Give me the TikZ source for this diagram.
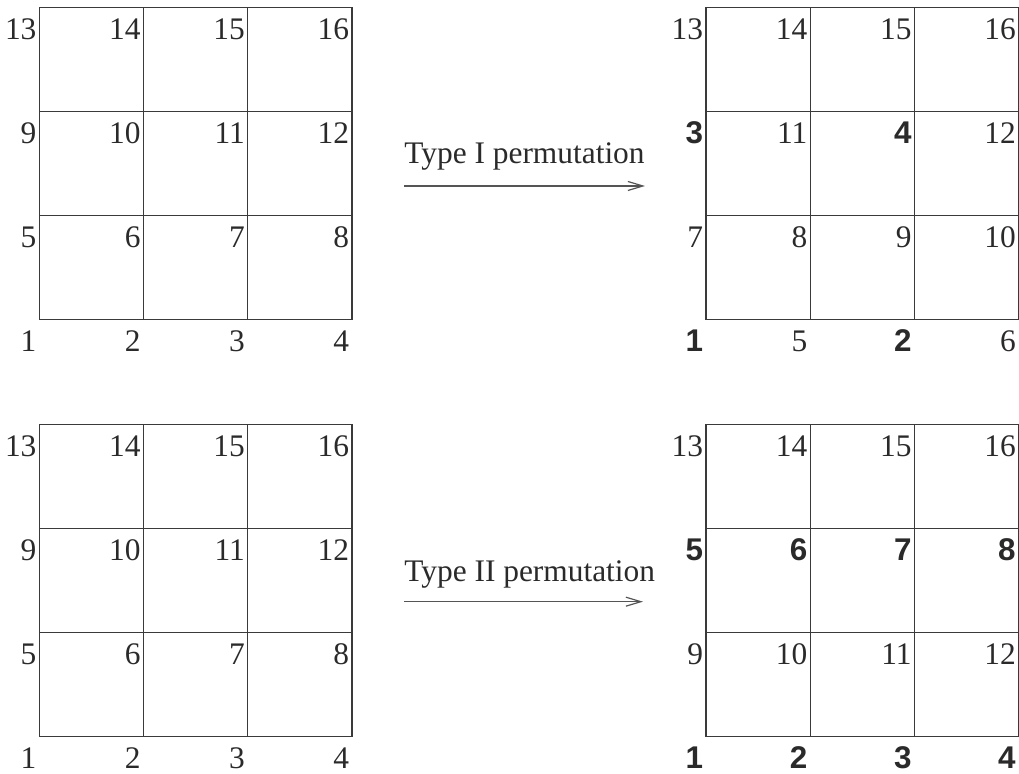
\documentclass[tikz,border=0pt]{standalone}
\usepackage{fontspec}
\setmainfont{Liberation Serif}
\newfontfamily\hitsans{Liberation Sans}
\usetikzlibrary{arrows.meta}
\definecolor{numc}{HTML}{2A2A2A}
\definecolor{gridc}{HTML}{3A3A3A}
\definecolor{arrowc}{HTML}{555555}
\newcommand{\numfont}{\fontsize{15.7}{18}\selectfont}
\newcommand{\hl}[1]{{\hitsans\bfseries #1}}
\newcommand{\cs}{104.2}
% #1 name, #2 left, #3 top, #4 labels, bottom row first
\newcommand{\permgrid}[4]{%
  \foreach \k in {0,...,3}{
    \draw[cell] (#2+\k*\cs,#3) -- (#2+\k*\cs,#3+3*\cs);
    \draw[cell] (#2,#3+\k*\cs) -- (#2+3*\cs,#3+\k*\cs);
  }
  \foreach \lab [count=\i from 0, evaluate=\i as \c using {int(mod(\i,4))},
      evaluate=\i as \r using {int(div(\i,4))}] in {#4}
    \node[num] (#1-\i) at ({#2+\c*\cs-2.5},{#3+(3-\r)*\cs+32}) {\lab};
}

\begin{document}
\begin{tikzpicture}[
  x=0.5pt, y=-0.5pt,
  cell/.style={draw=gridc, line width=0.6pt},
  num/.style={anchor=base east, inner sep=0pt, text=numc, font=\numfont},
  permlbl/.style={anchor=base west, inner sep=0pt, text=numc, font=\numfont},
  move/.style={draw=arrowc, line width=0.6pt, -{Straight Barb[length=7.5pt,width=4.5pt]}},
]
\useasboundingbox (0,0) rectangle (1019,774);

% original grids
\permgrid{tl}{39.3}{7.3}{1,2,3,4,5,6,7,8,9,10,11,12,13,14,15,16}
\permgrid{bl}{39.3}{424.3}{1,2,3,4,5,6,7,8,9,10,11,12,13,14,15,16}

% permuted grids
\permgrid{tr}{706}{7.3}{\hl{1},5,\hl{2},6,7,8,9,10,\hl{3},11,\hl{4},12,13,14,15,16}
\permgrid{br}{706}{424.3}{\hl{1},\hl{2},\hl{3},\hl{4},9,10,11,12,\hl{5},\hl{6},\hl{7},\hl{8},13,14,15,16}

% type I
\coordinate (p1a) at (404,186);
\coordinate (p1b) at (645,186);
\node[permlbl] (p1lbl) at (404,163.3) {Type I permutation};
\draw[move] (p1a) -- (p1b);

% type II
\coordinate (p2a) at (404,601.7);
\coordinate (p2b) at (643,601.7);
\node[permlbl] (p2lbl) at (404,581.7) {Type II permutation};
\draw[move] (p2a) -- (p2b);
\end{tikzpicture}
\end{document}
